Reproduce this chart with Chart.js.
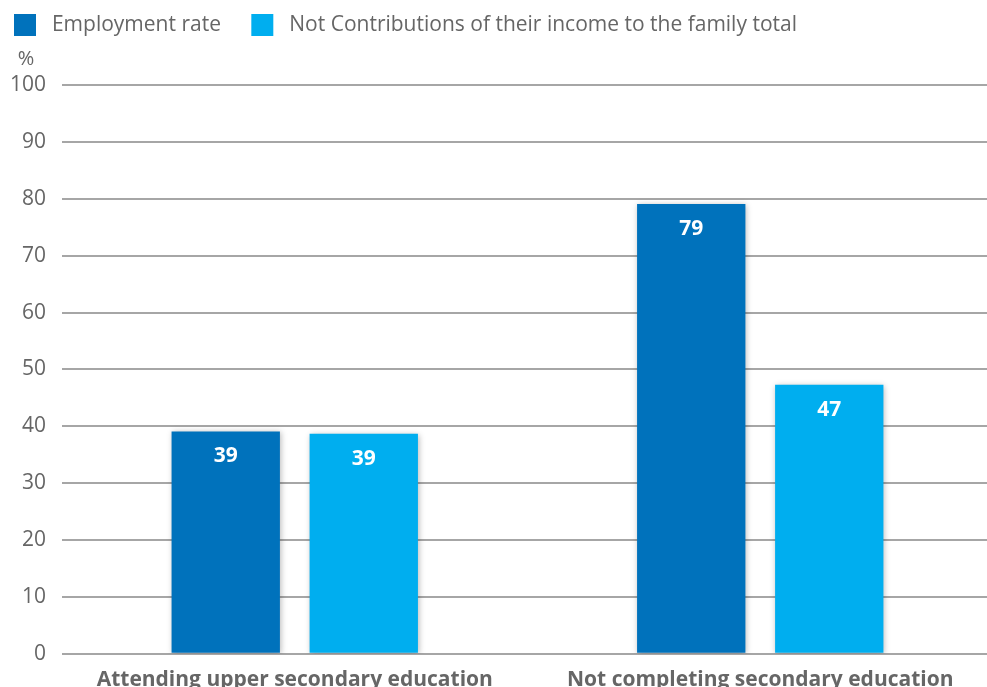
<!DOCTYPE html>
<html>
<head>
<meta charset="utf-8">
<script src="https://cdn.jsdelivr.net/npm/chart.js@4.4.1/dist/chart.umd.min.js"></script>
<style>
    html, body { margin: 0; padding: 0; background: #fff; overflow: hidden; }
    #wrap { width: 987px; height: 687px; overflow: hidden; position: relative; }
    #box { width: 993px; height: 707px; position: absolute; left: 0; top: 0; }
</style>
</head>
<body>
<div id="wrap"><div id="box"><canvas id="chart"></canvas></div></div>
<script>
// Chart data
const categories = ['Attending upper secondary education', 'Not completing secondary education'];
const employmentRate = [39.1, 79.1];
const notContributions = [38.7, 47.3];
const seriesNames = ['Employment rate', 'Not Contributions of their income to the family total'];
const yTicks = [0, 10, 20, 30, 40, 50, 60, 70, 80, 90, 100];

const darkBlue = '#0072bc';
const lightBlue = '#00aeef';

// Bigger gap under the legend
const legendGap = {
    id: 'legendGap',
    beforeInit(chart) {
        const origFit = chart.legend.fit;
        chart.legend.fit = function () {
            origFit.bind(chart.legend)();
            this.height += 39;
        };
    }
};

// Soft shadow behind bars
const barShadow = {
    id: 'barShadow',
    beforeDatasetsDraw(chart) {
        const ctx = chart.ctx;
        ctx.save();
        ctx.shadowColor = 'rgba(0,0,0,0.28)';
        ctx.shadowBlur = 6;
        ctx.shadowOffsetX = 1;
        ctx.shadowOffsetY = 1;
    },
    afterDatasetsDraw(chart) {
        chart.ctx.restore();
    }
};

// White value labels inside bars and the "%" unit
const valueLabels = {
    id: 'valueLabels',
    afterDatasetsDraw(chart) {
        const ctx = chart.ctx;
        ctx.save();
        ctx.fillStyle = '#ffffff';
        ctx.font = 'bold 21px "Open Sans"';
        ctx.textAlign = 'center';
        ctx.textBaseline = 'middle';
        chart.data.datasets.forEach((ds, i) => {
            chart.getDatasetMeta(i).data.forEach((bar, j) => {
                ctx.fillText(Math.round(ds.data[j]), bar.x, bar.y + 25);
            });
        });
        const yScale = chart.scales.y;
        ctx.fillStyle = '#666666';
        ctx.font = '20px "Open Sans"';
        ctx.fillText('%', 26, yScale.getPixelForValue(100) - 26);
        ctx.restore();
    }
};

const ctx = document.getElementById('chart').getContext('2d');
new Chart(ctx, {
    type: 'bar',
    data: {
        labels: categories,
        datasets: [{
            label: seriesNames[0],
            data: employmentRate,
            backgroundColor: darkBlue,
            borderWidth: 0
        }, {
            label: seriesNames[1],
            data: notContributions,
            backgroundColor: lightBlue,
            borderWidth: 0
        }]
    },
    options: {
        responsive: true,
        maintainAspectRatio: false,
        animation: false,
        categoryPercentage: 0.593,
        barPercentage: 0.785,
        layout: { padding: { top: 0, left: 0, right: 0, bottom: 0 } },
        plugins: {
            legend: {
                position: 'top',
                align: 'start',
                labels: {
                    boxWidth: 22,
                    boxHeight: 22,
                    padding: 14,
                    color: '#666666',
                    font: { family: '"Open Sans"', size: 21 },
                    generateLabels(chart) {
                        const items = Chart.defaults.plugins.legend.labels.generateLabels(chart);
                        items[0].text = ' ' + items[0].text + '   ';
                        items[1].text = ' ' + items[1].text;
                        return items;
                    }
                }
            },
            tooltip: { enabled: false }
        },
        scales: {
            x: {
                grid: { display: false, drawTicks: false },
                border: { display: false },
                ticks: {
                    color: '#666666',
                    padding: 14,
                    font: { family: '"Open Sans"', size: 21, weight: 'bold' }
                }
            },
            y: {
                min: 0,
                max: 100,
                afterBuildTicks(axis) {
                    axis.ticks = yTicks.map(v => ({ value: v }));
                },
                afterFit(axis) {
                    axis.width = 62;
                },
                grid: { color: '#a6a6a6', lineWidth: 2, drawTicks: false },
                border: { display: false },
                ticks: {
                    color: '#666666',
                    padding: 16,
                    font: { family: '"Open Sans"', size: 21 }
                }
            }
        }
    },
    plugins: [legendGap, barShadow, valueLabels]
});
</script>
</body>
</html>
